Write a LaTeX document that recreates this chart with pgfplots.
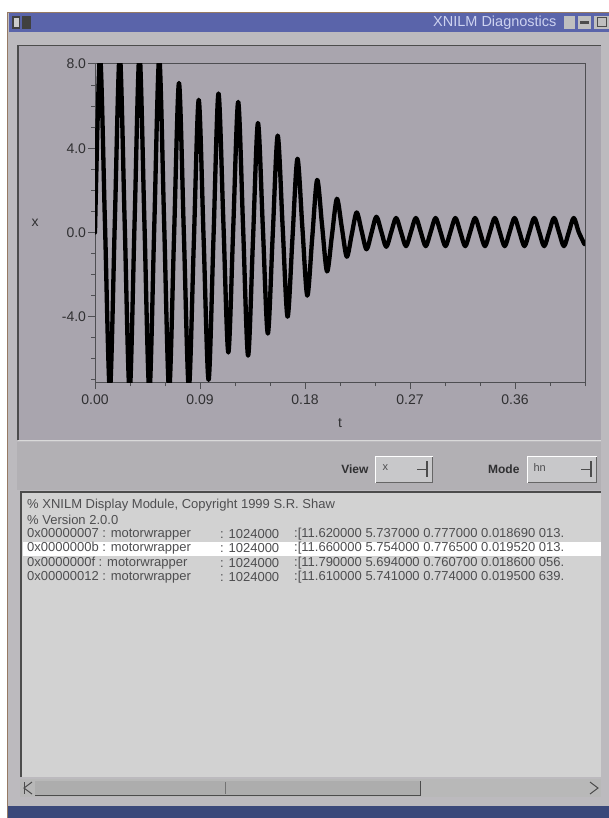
\documentclass[border=0pt]{standalone}
\usepackage{fontspec}
\setmainfont{Liberation Sans}
\usepackage{pgfplots}
\pgfplotsset{compat=1.18}
\definecolor{plotbg}{RGB}{169,165,174}
\definecolor{framegray}{RGB}{188,186,190}
\definecolor{strip}{RGB}{178,176,180}
\definecolor{textbg}{RGB}{210,210,210}
\definecolor{titleblue}{RGB}{90,100,170}
\definecolor{titletext}{RGB}{205,210,240}
\definecolor{darkblue}{RGB}{58,72,122}
\definecolor{axisgray}{RGB}{78,78,82}
\definecolor{labelgray}{RGB}{48,48,50}
\definecolor{tanline}{RGB}{150,122,100}
\definecolor{boxgray}{RGB}{200,200,202}
\definecolor{txt}{RGB}{78,78,80}
\begin{document}
\begin{tikzpicture}
% ---------------- GUI window (pixel coordinates, y downward) ----------------
\begin{scope}[x=1pt,y=-1pt]
\fill[white] (0,0) rectangle (609,818);
\fill[framegray] (8,12) rectangle (609,818);
\draw[tanline, line width=1.5pt] (7.5,12) -- (7.5,818);
\draw[tanline, line width=1pt] (7.5,12.5) -- (609,12.5);
\fill[titleblue] (8.5,13) rectangle (609,32);
\fill[black!75] (12,16) rectangle (20,29);
\fill[black!75] (22,16) rectangle (31,29);
\fill[white!80!black] (13.5,18) rectangle (18.5,27);
\node[anchor=east, text=titletext, font=\fontsize{14.5}{14.5}\selectfont] at (560,22.5) {XNILM Diagnostics};
\fill[white!75!black] (564,16) rectangle (575,29);
\fill[white!75!black] (578,16) rectangle (591,29);
\fill[white!75!black] (594,16) rectangle (609,29);
\fill[black!70] (580,21) rectangle (589,24);
\draw[black!70, line width=1pt] (597,18) rectangle (606,27);
% plot panel
\fill[plotbg] (17,45) rectangle (601,440);
\draw[black!70, line width=1.5pt] (17.75,440) -- (17.75,45.75) -- (601,45.75);
\draw[white!85!black, line width=1pt] (18,440.5) -- (601,440.5);
% controls strip
\fill[strip] (17,442) rectangle (601,490);
\node[anchor=east, text=labelgray, font=\bfseries\fontsize{12}{12}\selectfont] at (372,469) {View};
\fill[boxgray] (375,456) rectangle (433,483);
\draw[white, line width=1pt] (375.5,483) -- (375.5,456.5) -- (433,456.5);
\draw[black!60, line width=1pt] (376,482.5) -- (432.5,482.5) -- (432.5,457);
\node[anchor=west, text=txt, font=\fontsize{11}{11}\selectfont] at (379,468) {x};
\draw[black!70, line width=1pt] (417,469) -- (426,469);
\draw[black!70, line width=1.2pt] (427,461) -- (427,477);
\node[anchor=east, text=labelgray, font=\bfseries\fontsize{12}{12}\selectfont] at (523,469) {Mode};
\fill[boxgray] (527,456) rectangle (597,483);
\draw[white, line width=1pt] (527.5,483) -- (527.5,456.5) -- (597,456.5);
\draw[black!60, line width=1pt] (528,482.5) -- (596.5,482.5) -- (596.5,457);
\node[anchor=west, text=txt, font=\fontsize{11}{11}\selectfont] at (530,468) {hn};
\draw[black!70, line width=1pt] (581,469) -- (590,469);
\draw[black!70, line width=1.2pt] (591,461) -- (591,477);
% text area
\fill[textbg] (20,491) rectangle (601,777);
\fill[white] (23,542) rectangle (601,556);
\draw[black!70, line width=2pt] (21,777) -- (21,492) -- (601,492);
\begin{scope}
\clip (22,493) rectangle (601,776);
\begin{scope}[every node/.style={anchor=west, text=txt, font=\fontsize{13}{13}\selectfont, inner sep=0pt}]
\node at (27,505) {\% XNILM Display Module, Copyright 1999 S.R. Shaw};
\node at (27,519.5) {\% Version 2.0.0};
\node at (27,534) {0x00000007 : motorwrapper};
\node at (220,534) {: 1024000};
\node at (294,534) {:[11.620000 5.737000 0.777000 0.018690 013.};
\node at (27,548.5) {0x0000000b : motorwrapper};
\node at (220,548.5) {: 1024000};
\node at (294,548.5) {:[11.660000 5.754000 0.776500 0.019520 013.};
\node at (27,563) {0x0000000f : motorwrapper};
\node at (220,563) {: 1024000};
\node at (294,563) {:[11.790000 5.694000 0.760700 0.018600 056.};
\node at (27,577.5) {0x00000012 : motorwrapper};
\node at (220,577.5) {: 1024000};
\node at (294,577.5) {:[11.610000 5.741000 0.774000 0.019500 639.};
\end{scope}
\end{scope}
% scrollbar
\fill[white!72!black] (20,779) rectangle (601,797);
\fill[white!68!black] (35,781) rectangle (420,795);
\draw[black!70, line width=1pt] (35,795) -- (420,795) -- (420,781);
\draw[black!55, line width=1pt] (225,782) -- (225,794);
\draw[black!70, line width=1pt] (24,782) -- (24,794);
\draw[black!70, line width=1pt] (32,782) -- (24,788) -- (32,794);
\draw[black!70, line width=1pt] (590,782) -- (598,788) -- (590,794);
% bottom edge
\fill[darkblue] (8,806) rectangle (609,818);
\end{scope}
% ---------------- the plot ----------------
\begin{axis}[
  at={(95pt,-382pt)}, anchor=south west,
  scale only axis, width=490pt, height=318pt,
  xmin=0, xmax=0.42, ymin=-7.1, ymax=8,
  axis background/.style={fill=plotbg},
  axis line style={draw=axisgray, line width=1pt},
  tick align=outside, xtick pos=bottom, ytick pos=left,
  xtick={0,0.09,0.18,0.27,0.36}, xticklabels={0.00,0.09,0.18,0.27,0.36},
  minor xtick={0.03,0.06,0.12,0.15,0.21,0.24,0.30,0.33,0.39,0.42},
  ytick={-4,0,4,8}, yticklabels={-4.0,0.0,4.0,8.0},
  minor ytick={-7,-6,-5,-3,-2,-1,1,2,3,5,6,7},
  major tick length=7pt, minor tick length=4pt,
  every tick/.style={draw=axisgray, line width=1pt},
  ticklabel style={font=\fontsize{14}{14}\selectfont, text=labelgray},
  xticklabel style={yshift=-2.5pt},
  yticklabel style={xshift=1.5pt},
  xlabel={t}, ylabel={x},
  label style={font=\fontsize{14}{14}\selectfont, text=labelgray},
  ylabel style={rotate=-90, at={(axis description cs:-0.1224,0.5)}, anchor=center},
  xlabel style={at={(axis description cs:0.5,-0.129)}, anchor=center},
]
\addplot[black, line width=4.3pt, smooth, tension=0.5, line join=round, line cap=round] coordinates {
(0,0.0)
(0.00430,8.4) (0.00853,0.45) (0.01276,-7.5) (0.01699,0.5)
(0.02122,8.5) (0.02545,0.45) (0.02968,-7.6) (0.03391,0.45)
(0.03814,8.5) (0.04237,0.45) (0.04660,-7.6) (0.05083,0.35)
(0.05506,8.3) (0.05929,0.4) (0.06352,-7.5) (0.06775,-0.2)
(0.07198,7.1) (0.07621,-0.15) (0.08044,-7.4) (0.08467,-0.55)
(0.08890,6.3) (0.09313,-0.35) (0.09736,-7.0) (0.10159,-0.2)
(0.10582,6.6) (0.11005,0.45) (0.11428,-5.7) (0.11851,0.25)
(0.12274,6.2) (0.12697,0.18) (0.13120,-5.85) (0.13543,-0.33)
(0.13966,5.2) (0.14389,0.2) (0.14812,-4.8) (0.15235,-0.1)
(0.15658,4.6) (0.16081,0.3) (0.16504,-4.0) (0.16927,-0.25)
(0.17350,3.5) (0.17773,0.25) (0.18196,-3.0) (0.18619,-0.25)
(0.19042,2.5) (0.19465,0.33) (0.19888,-1.85) (0.20311,-0.13)
(0.20734,1.6) (0.21157,0.23) (0.21580,-1.15) (0.22003,-0.1)
(0.22426,0.95) (0.22849,0.08) (0.23272,-0.8) (0.23695,-0.03)
(0.24118,0.75) (0.24541,0.04) (0.24964,-0.68) (0.25387,0.01)
(0.25810,0.69) (0.26233,0.02) (0.26656,-0.65) (0.27079,0.02)
(0.27502,0.69) (0.27925,0.02) (0.28348,-0.65) (0.28771,0.02)
(0.29194,0.69) (0.29617,0.02) (0.30040,-0.65) (0.30463,0.02)
(0.30886,0.69) (0.31309,0.02) (0.31732,-0.65) (0.32155,0.02)
(0.32578,0.69) (0.33001,0.02) (0.33424,-0.65) (0.33847,0.02)
(0.34270,0.69) (0.34693,0.02) (0.35116,-0.65) (0.35539,0.02)
(0.35962,0.69) (0.36385,0.02) (0.36808,-0.65) (0.37231,0.02)
(0.37654,0.69) (0.38077,0.02) (0.38500,-0.65) (0.38923,0.02)
(0.39346,0.69) (0.39769,0.02) (0.40192,-0.65) (0.40615,0.02)
(0.41038,0.69) (0.41461,0.02) (0.41950,-0.55)
};
\end{axis}
\pgfresetboundingbox
\useasboundingbox (0,0) rectangle (609pt,-818pt);
\end{tikzpicture}
\end{document}
